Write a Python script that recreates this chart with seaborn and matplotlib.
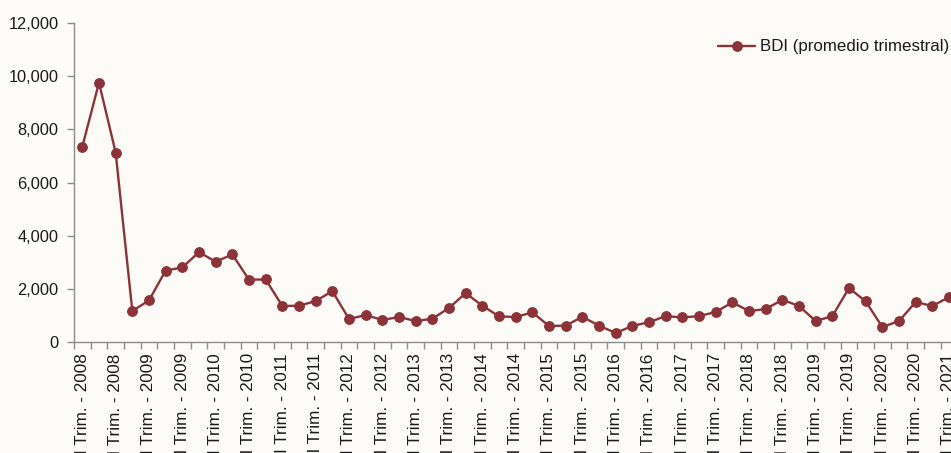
import matplotlib
matplotlib.use("Agg")
import matplotlib.pyplot as plt
import seaborn as sns
import pandas as pd
from matplotlib.ticker import FuncFormatter, FixedLocator

# quarterly periods, 2008 Q1 .. 2021 Q1
quarters = ["I", "II", "III", "IV"]
years = list(range(2008, 2022))
periods = [f"{q} Trim. - {y}" for y in years for q in quarters][:53]

bdi = [7350, 9760, 7130, 1165, 1565, 2690, 2805, 3385, 3020, 3295,
       2345, 2355, 1355, 1365, 1540, 1915, 865, 1015, 830, 940,
       790, 875, 1280, 1840, 1365, 965, 940, 1115, 605, 615,
       950, 615, 340, 605, 745, 975, 925, 975, 1130, 1490,
       1165, 1240, 1590, 1355, 790, 975, 2030, 1530, 565, 790,
       1505, 1355, 1690]

series_name = "BDI (promedio trimestral)"

df = pd.DataFrame({"idx": range(len(bdi)), "periodo": periods, "valor": bdi})

sns.set_style("white")
plt.rcParams["font.family"] = ["Liberation Sans", "DejaVu Sans"]

bg = "#fcfbf7"
red = "#8b3339"
grey = "#8c8c8c"

fig = plt.figure(figsize=(9.51, 4.53), dpi=100, facecolor=bg)
ax = fig.add_axes([0.0778, 0.245, 1 - 0.0778, 0.949 - 0.245])
ax.set_facecolor(bg)

sns.lineplot(data=df, x="idx", y="valor", ax=ax, color=red, linewidth=1.7,
             marker="o", markersize=7, markeredgecolor=red, label=series_name)

ax.set_xlim(-0.5, 52.12)
ax.set_ylim(0, 12000)
ax.set_yticks(range(0, 12001, 2000))
ax.yaxis.set_major_formatter(FuncFormatter(lambda v, p: f"{int(v):,}"))

# labels every second quarter, tick marks between categories
shown = list(range(0, len(periods), 2))
ax.set_xticks(shown)
ax.set_xticklabels([periods[i] for i in shown], rotation=90, va="top", ha="center")
ax.xaxis.set_minor_locator(FixedLocator([i - 0.5 for i in range(len(periods) + 1)]))
ax.tick_params(axis="x", which="major", length=0, pad=8, labelsize=12.3, colors="#1a1a1a")
ax.tick_params(axis="x", which="minor", length=5, width=1, color=grey, bottom=True)
ax.tick_params(axis="y", which="major", length=5, width=1, color=grey, left=True,
               labelsize=11.8, labelcolor="#1a1a1a", pad=6)

for s in ["top", "right"]:
    ax.spines[s].set_visible(False)
for s in ["left", "bottom"]:
    ax.spines[s].set_color(grey)
    ax.spines[s].set_linewidth(1)

ax.set_xlabel("")
ax.set_ylabel("")

leg = ax.legend(loc="upper right", bbox_to_anchor=(1.006, 0.97), frameon=False,
                fontsize=12.2, handlelength=2.2, handletextpad=0.3, borderaxespad=0)
for t in leg.get_texts():
    t.set_color("#1a1a1a")

fig.savefig("out.png", dpi=100, facecolor=bg)
